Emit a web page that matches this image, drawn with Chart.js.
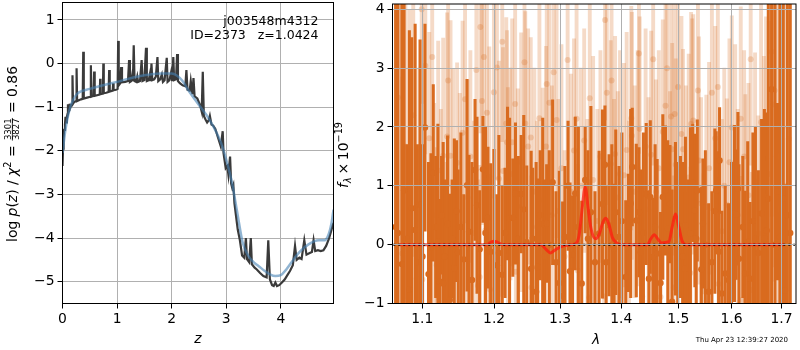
<!DOCTYPE html>
<html>
<head>
<meta charset="utf-8">
<script src="https://cdn.jsdelivr.net/npm/chart.js@4.4.0/dist/chart.umd.min.js"></script>
<style>
  html, body { margin: 0; padding: 0; background: #fff; }
  #wrap { position: relative; width: 800px; height: 350px; overflow: hidden; }
  canvas { position: absolute; top: 0; }
  #pz { left: 0; }
  #spec { left: 334px; }
</style>
</head>
<body>
<div id="wrap">
  <canvas id="pz" width="340" height="350"></canvas>
  <canvas id="spec" width="466" height="350"></canvas>
</div>
<script>
// ---- left panel: log p(z) ----
const pzZ = [0.000,0.010,0.020,0.030,0.045,0.055,0.065,0.080,0.093,0.100,0.107,0.120,
  0.130,0.140,0.160,0.175,0.183,0.193,0.215,0.250,0.258,0.268,
  0.300,0.340,0.370,0.380,0.390,0.450,0.510,0.520,0.530,0.570,
  0.580,0.590,0.650,0.683,0.690,0.697,0.740,0.748,0.756,0.800,0.845,0.855,
  0.865,0.920,0.928,0.936,0.980,1.010,1.020,1.030,1.060,1.075,1.090,1.150,
  1.200,1.220,1.235,1.260,1.275,1.290,1.305,1.320,1.350,1.370,
  1.385,1.420,1.450,1.465,1.500,1.530,1.545,1.580,1.600,1.615,
  1.630,1.645,1.680,1.710,1.740,1.755,1.790,1.820,1.840,1.870,
  1.910,1.925,1.960,1.990,2.010,2.030,2.045,2.080,2.100,2.115,
  2.150,2.200,2.250,2.270,2.290,2.330,2.350,2.380,2.400,2.420,
  2.470,2.520,2.550,2.570,2.590,2.620,2.650,2.680,2.700,2.730,
  2.760,2.800,2.850,2.900,2.935,2.950,2.990,3.020,3.040,3.070,
  3.090,3.110,3.130,3.150,3.180,3.210,3.250,3.290,3.330,3.360,
  3.380,3.420,3.450,3.470,3.520,3.560,3.620,3.680,3.740,3.770,
  3.800,3.840,3.870,3.900,3.930,3.970,4.020,4.070,4.120,4.170,
  4.220,4.260,4.290,4.340,4.380,4.430,4.470,4.520,4.570,4.600,
  4.630,4.680,4.730,4.780,4.830,4.880,4.920,4.965];
const pzLog = [-2.35,-1.95,-1.70,-1.52,-1.40,-1.22,-1.35,-1.22,-1.15,-0.93,-1.12,-1.05,
  -0.92,-1.02,-0.95,-0.93,-0.27,-0.92,-0.88,-0.86,-0.11,-0.86,
  -0.84,-0.82,-0.81,0.27,-0.80,-0.78,-0.76,-0.04,-0.76,-0.74,
  -0.18,-0.74,-0.72,-0.71,-0.35,-0.70,-0.69,0.00,-0.68,-0.67,-0.65,-0.15,
  -0.64,-0.62,-0.45,-0.61,-0.60,-0.58,0.52,-0.50,-0.45,-0.08,-0.43,-0.42,
  -0.40,0.08,-0.42,-0.40,-0.28,-0.40,0.42,-0.40,-0.42,-0.30,
  -0.42,-0.40,0.08,-0.40,-0.38,0.36,-0.40,-0.38,-0.25,-0.40,
  0.00,-0.38,-0.36,-0.30,0.15,-0.40,-0.36,-0.25,-0.42,-0.38,
  0.13,-0.42,-0.38,-0.20,-0.40,0.15,-0.38,-0.36,0.22,-0.40,
  -0.45,-0.50,-0.52,-0.15,-0.60,-0.62,-0.40,-0.70,-0.33,-0.75,
  -0.80,-0.95,-1.10,-0.19,-1.20,-1.28,-1.35,-1.30,-1.20,-1.40,
  -1.42,-1.50,-1.70,-1.90,-1.55,-2.05,-2.40,-2.35,-2.55,-2.13,
  -2.75,-2.85,-2.78,-3.20,-3.50,-3.80,-4.05,-4.40,-4.45,-4.00,
  -4.48,-4.55,-4.00,-4.60,-4.68,-4.72,-4.80,-4.87,-4.90,-4.05,
  -4.95,-5.08,-5.10,-5.02,-5.10,-5.08,-5.02,-4.95,-4.85,-4.75,
  -4.62,-4.18,-4.50,-4.45,-4.48,-4.05,-4.38,-4.35,-4.32,-4.05,
  -4.30,-4.28,-4.30,-4.28,-4.18,-4.02,-3.85,-3.65];
const fitZ = [0.00,0.05,0.10,0.15,0.20,0.25,0.30,0.50,0.80,1.00,1.20,1.40,1.60,1.80,2.00,
  2.10,2.20,2.30,2.50,2.70,2.90,3.00,3.10,3.20,3.30,3.40,3.50,3.60,3.70,3.80,3.90,
  4.00,4.10,4.20,4.30,4.40,4.50,4.60,4.70,4.80,4.88,4.93,4.965];
const fitLog = [-2.05,-1.55,-1.20,-0.97,-0.82,-0.72,-0.66,-0.58,-0.48,-0.42,-0.35,-0.29,-0.25,-0.23,-0.23,
  -0.28,-0.40,-0.60,-0.95,-1.30,-1.80,-2.20,-2.70,-3.40,-4.10,-4.40,-4.55,-4.65,-4.75,-4.83,-4.87,
  -4.85,-4.72,-4.55,-4.38,-4.25,-4.15,-4.08,-4.05,-4.05,-3.90,-3.65,-3.35];
const zTicks = [0, 1, 2, 3, 4];
const pzTicks = [-5, -4, -3, -2, -1, 0, 1];

// ---- right panel: 1D spectrum ----
const darkWave = [1.0650,1.0680,1.0730,1.0760,1.0795,1.0829,1.0860,1.0905,1.0935,1.0970,
  1.1003,1.1036,1.1083,1.1116,1.1147,1.1180,1.1210,1.1237,1.1260,1.1282,
  1.1305,1.1342,1.1373,1.1405,1.1435,1.1466,1.1488,1.1527,1.1567,1.1613,
  1.1641,1.1683,1.1726,1.1754,1.1792,1.1839,1.1875,1.1911,1.1950,1.1997,
  1.2041,1.2070,1.2119,1.2160,1.2197,1.2227,1.2275,1.2315,1.2358,1.2400,
  1.2439,1.2484,1.2551,1.2575,1.2627,1.2651,1.2690,1.2728,1.2760,1.2789,
  1.2830,1.2882,1.2935,1.2987,1.3039,1.3075,1.3125,1.3156,1.3197,1.3240,
  1.3290,1.3344,1.3400,1.3445,1.3493,1.3560,1.3628,1.3683,1.3725,1.3745,
  1.3794,1.3840,1.3877,1.3906,1.3961,1.4010,1.4075,1.4120,1.4160,1.4187,
  1.4256,1.4302,1.4331,1.4380,1.4429,1.4476,1.4500,1.4546,1.4585,1.4621,
  1.4681,1.4722,1.4770,1.4811,1.4850,1.4888,1.4949,1.4990,1.5040,1.5080,
  1.5118,1.5131,1.5175,1.5222,1.5265,1.5305,1.5330,1.5350,1.5425,1.5455,
  1.5500,1.5562,1.5624,1.5680,1.5705,1.5751,1.5770,1.5813,1.5878,1.5942,
  1.6000,1.6057,1.6090,1.6125,1.6145,1.6220,1.6266,1.6317,1.6364,1.6420,
  1.6470,1.6529,1.6594,1.6650,1.6695,1.6729,1.6796,1.6865,1.6915,1.6967,
  1.7035,1.7070,1.7120,1.7180];
const darkFlux = [0.30,0.20,-0.33,0.92,0.10,-0.76,0.62,0.25,-0.30,0.68,
  -0.20,1.99,-0.50,-0.05,1.22,0.30,0.05,-0.63,0.50,-0.66,
  -0.20,0.35,-0.94,0.10,-0.40,0.57,-0.13,0.30,-0.25,1.01,
  0.22,-0.60,1.27,0.67,-0.08,1.28,0.20,0.46,-0.12,0.02,
  -0.35,-0.14,-0.51,0.20,1.04,0.45,0.46,0.87,0.10,0.86,
  0.60,0.04,-0.41,0.10,-0.80,-0.38,0.50,0.35,-0.20,0.36,
  0.00,1.06,-0.30,-0.65,-0.87,0.13,1.00,-0.45,-0.17,0.87,
  0.30,-0.66,1.10,0.10,0.55,-0.30,0.19,0.69,1.36,-0.30,
  0.33,0.00,-0.07,0.55,0.13,0.40,-0.55,0.20,0.70,1.32,
  0.41,0.55,-0.13,0.20,0.86,-0.58,0.81,-0.21,0.30,-0.15,
  -0.65,0.81,0.92,0.27,0.69,-0.97,0.44,0.00,0.30,-0.20,
  -0.41,0.33,0.00,0.19,1.05,0.58,0.10,0.92,-0.42,0.36,
  0.00,-0.80,-0.30,0.57,0.92,-0.12,1.43,-0.83,-0.49,-0.60,
  0.20,0.53,0.51,0.95,-0.24,0.30,-0.49,0.05,-0.58,0.40,
  0.10,-0.14,0.53,0.10,0.24,0.78,2.64,0.00,0.90,0.13,
  0.78,-0.78,0.50,0.20];
const darkErr = [6.0,5.5,5.0,3.2,1.6,4.4,2.9,3.5,2.0,2.8,
  1.9,1.76,1.9,1.6,1.5,1.2,2.0,1.4,1.0,2.4,
  1.3,1.5,1.8,1.0,2.2,1.2,1.4,1.6,1.1,1.8,
  1.3,2.0,1.2,1.5,1.0,0.9,1.8,1.2,1.5,1.6,
  1.2,2.0,1.5,1.1,1.3,1.7,1.0,1.2,1.4,1.0,
  1.6,1.3,2.0,1.2,2.2,1.5,1.1,1.8,1.3,1.0,
  1.6,1.4,1.2,1.9,1.6,1.2,1.1,1.5,1.0,1.3,
  1.7,1.4,0.9,1.5,1.8,1.2,1.4,1.6,1.0,1.3,
  1.2,1.7,1.1,1.4,1.2,1.5,1.3,1.0,1.6,1.0,
  1.3,1.1,1.4,1.7,1.2,1.5,1.3,1.0,1.4,1.6,
  1.2,1.4,1.1,1.5,1.0,1.9,1.3,1.4,1.2,1.6,
  1.3,1.5,1.1,1.8,1.0,1.3,1.5,1.2,1.4,1.1,
  1.6,1.5,1.2,1.4,1.0,1.7,0.9,1.4,1.5,1.3,
  1.2,1.5,1.1,1.3,1.6,1.2,1.4,1.7,1.3,1.5,
  1.9,1.4,1.6,2.2,2.0,3.8,4.0,4.5,1.5,4.5,
  5.0,1.8,6.0,6.0];

const lightWave = [1.0680,1.0738,1.0777,1.0830,1.0880,1.0926,1.0960,1.0992,1.1000,1.1040,
  1.1093,1.1133,1.1160,1.1193,1.1214,1.1250,1.1282,1.1328,1.1336,1.1350,
  1.1383,1.1419,1.1474,1.1511,1.1550,1.1585,1.1620,1.1660,1.1710,1.1745,
  1.1768,1.1792,1.1802,1.1825,1.1853,1.1873,1.1896,1.1930,1.1940,1.1997,
  1.2041,1.2070,1.2119,1.2130,1.2178,1.2190,1.2202,1.2240,1.2266,1.2310,
  1.2320,1.2350,1.2400,1.2450,1.2462,1.2505,1.2545,1.2555,1.2600,1.2640,
  1.2677,1.2728,1.2780,1.2790,1.2831,1.2870,1.2898,1.2944,1.2971,1.3020,
  1.3070,1.3118,1.3170,1.3220,1.3261,1.3280,1.3330,1.3384,1.3437,1.3465,
  1.3475,1.3530,1.3600,1.3650,1.3711,1.3727,1.3756,1.3822,1.3835,1.3877,
  1.3895,1.3940,1.3978,1.4045,1.4091,1.4130,1.4170,1.4180,1.4230,1.4280,
  1.4302,1.4315,1.4359,1.4418,1.4470,1.4516,1.4551,1.4600,1.4650,1.4681,
  1.4722,1.4770,1.4798,1.4850,1.4870,1.4890,1.4919,1.4935,1.4955,1.4996,
  1.5058,1.5087,1.5140,1.5191,1.5222,1.5235,1.5255,1.5275,1.5362,1.5380,
  1.5420,1.5468,1.5519,1.5570,1.5624,1.5688,1.5737,1.5751,1.5813,1.5860,
  1.5909,1.5960,1.6005,1.6071,1.6120,1.6180,1.6205,1.6246,1.6270,1.6331,
  1.6376,1.6400,1.6463,1.6529,1.6583,1.6640,1.6683,1.6740,1.6796,1.6830,
  1.6855,1.6900,1.6960,1.7020,1.7080,1.7150];
const lightFlux = [2.50,-0.15,1.67,0.80,2.20,-0.58,1.00,4.00,-0.59,3.04,
  1.81,3.19,0.50,-0.35,1.26,0.60,1.51,-0.50,1.84,2.79,
  1.51,0.98,1.39,0.37,1.90,2.47,0.80,1.50,0.20,2.97,
  -0.70,-0.55,3.70,2.44,3.19,0.24,2.24,1.16,-0.76,2.59,
  3.01,1.12,3.45,1.25,2.06,1.74,0.67,1.20,1.74,2.39,
  -0.46,0.65,1.40,3.10,2.06,1.67,1.82,-0.73,0.90,0.30,
  2.15,0.76,1.67,2.73,2.41,0.50,2.93,2.12,0.57,1.30,
  -0.20,3.14,0.90,1.60,2.14,-0.44,1.00,1.77,0.33,-0.90,
  2.49,1.10,0.40,1.50,-0.88,3.82,2.58,1.37,2.79,0.57,
  1.54,0.80,1.20,1.18,1.61,0.30,2.15,1.85,0.90,1.30,
  3.25,1.97,-0.88,1.67,0.60,1.53,3.15,0.90,1.30,-0.89,
  1.92,2.36,3.00,0.70,2.18,1.62,-0.73,2.22,1.36,2.68,
  1.88,1.62,0.80,1.14,-0.48,2.05,1.84,2.11,2.62,1.43,
  0.70,-0.79,0.64,1.30,2.58,1.81,2.68,-0.67,0.23,1.00,
  0.68,1.40,1.99,1.40,0.50,2.14,-0.94,1.50,0.55,0.84,
  3.15,-0.77,1.06,0.19,2.08,0.90,1.47,1.20,3.28,2.38,
  2.62,1.50,0.60,2.00,1.00,1.80];
const lightErr = [3.5,3.0,2.6,3.2,2.4,2.2,2.0,1.6,1.8,1.5,
  1.8,2.0,1.9,2.0,2.2,1.7,2.0,1.9,2.1,1.8,
  2.3,2.0,1.7,2.2,1.9,2.1,2.0,1.8,1.9,2.0,
  1.8,1.9,1.8,2.1,1.9,1.7,2.0,2.2,1.9,1.8,
  1.9,2.0,1.7,2.1,1.8,1.9,2.0,1.8,2.1,1.9,
  1.7,2.0,2.2,1.8,1.9,2.0,1.7,1.9,2.1,1.8,
  2.0,1.9,1.7,2.0,1.9,2.2,1.8,2.0,1.9,2.1,
  1.8,1.7,2.0,1.9,2.1,1.8,2.0,1.9,1.8,2.0,
  1.7,2.1,1.9,1.8,2.0,1.7,1.9,2.1,1.8,1.9,
  2.0,1.8,2.1,1.9,2.0,1.8,1.9,2.1,1.8,2.0,
  1.7,1.9,1.8,2.0,1.9,2.1,1.8,1.9,2.0,1.7,
  1.9,2.1,1.8,1.9,2.0,1.8,1.9,2.1,1.8,1.9,
  2.0,1.7,1.9,2.1,1.8,1.9,2.0,1.8,1.9,2.1,
  1.8,2.0,1.9,1.8,2.0,1.9,2.1,1.8,1.9,2.0,
  1.8,2.1,1.9,2.0,1.8,1.9,2.1,1.8,2.0,1.9,
  1.8,2.0,2.2,2.0,2.1,2.3,2.4,2.6,2.8,3.0,
  3.0,3.2,3.5,3.6,4.0,4.0];

const modelWave = [1.070,1.190,1.195,1.200,1.205,1.212,1.270,1.278,1.285,1.292,1.300,1.310,1.325,
  1.330,1.335,1.340,1.345,1.350,1.357,1.363,1.369,1.374,1.379,1.385,1.392,1.400,
  1.445,1.451,1.457,1.463,1.470,1.483,1.489,1.495,1.501,1.507,1.514,1.705];
const modelFlux = [0,0,0.04,0.06,0.04,0,0,-0.08,-0.14,-0.09,-0.04,-0.01,0.02,
  0.15,0.60,0.98,0.60,0.25,0.10,0.18,0.38,0.45,0.35,0.12,0.03,0,
  0,0.10,0.17,0.10,0.03,0.05,0.30,0.52,0.30,0.06,0,0];
const zeroWave = [1.062, 1.728];
const zeroFlux = [0, 0];
const waveTicks = [1.1, 1.2, 1.3, 1.4, 1.5, 1.6, 1.7];
const fluxTicks = [-1, 0, 1, 2, 3, 4];

const fieldName = 'j003548m4312';
const idText = 'ID=2373   z=1.0424';
const stamp = 'Thu Apr 23 12:39:27 2020';

Chart.defaults.font.family = "'DejaVu Sans'";
Chart.defaults.color = '#000';

const FONT = "'DejaVu Sans'";
const TICK_SIZE = 13.9;
const gridColor = '#b0b0b0';
const orange = '#d96b1f';
const orangeLight = 'rgba(217,107,31,0.25)';

const minus = v => String(v).replace('-', '\u2212');
const pts = (xs, ys) => xs.map((x, i) => ({ x: x, y: ys[i] }));
const bars = (xs, ys, es) => xs.map((x, i) => ({ x: x, y: [ys[i] - es[i], ys[i] + es[i]] }));

// draws a row of text pieces centred on (cx, cy); baseline at local y = 0
function drawRuns(ctx, runs, cx, cy, rot) {
  ctx.save();
  ctx.translate(cx, cy);
  ctx.rotate(rot);
  ctx.fillStyle = '#000';
  ctx.textBaseline = 'alphabetic';
  let total = 0;
  runs.forEach(r => {
    ctx.font = r.font;
    if (r.frac) {
      r.w = Math.max(ctx.measureText(r.frac[0]).width, ctx.measureText(r.frac[1]).width) + 2;
    } else {
      r.w = ctx.measureText(r.t).width;
    }
    total += r.w;
  });
  let x = -total / 2;
  runs.forEach(r => {
    ctx.font = r.font;
    if (r.frac) {
      ctx.textAlign = 'center';
      ctx.fillText(r.frac[0], x + r.w / 2, -5.8);
      ctx.fillText(r.frac[1], x + r.w / 2, 2.8);
      ctx.fillRect(x + 0.5, -4.6, r.w - 1, 0.8);
    } else {
      ctx.textAlign = 'left';
      ctx.fillText(r.t, x, r.dy || 0);
    }
    x += r.w;
  });
  ctx.restore();
}

const nf = s => s + 'px ' + FONT;
const itf = s => 'italic ' + s + 'px ' + FONT;

const pzLabel = [
  { t: 'log ', font: nf(TICK_SIZE) },
  { t: 'p', font: itf(TICK_SIZE) },
  { t: '(', font: nf(TICK_SIZE) },
  { t: 'z', font: itf(TICK_SIZE) },
  { t: ') / ', font: nf(TICK_SIZE) },
  { t: '\u03c7', font: itf(TICK_SIZE) },
  { t: '2', font: nf(9.7), dy: -5.5 },
  { t: ' = ', font: nf(TICK_SIZE) },
  { frac: ['3301', '3827'], font: nf(8.5) },
  { t: ' = 0.86', font: nf(TICK_SIZE) }
];
const specLabel = [
  { t: 'f', font: itf(TICK_SIZE) },
  { t: '\u03bb', font: itf(9.7), dy: 3 },
  { t: '\u2009\u00d7\u200910', font: nf(TICK_SIZE) },
  { t: '\u221219', font: nf(9.7), dy: -6 }
];

const frame = {
  id: 'frame',
  afterDraw(chart) {
    const { ctx, chartArea: a } = chart;
    ctx.save();
    ctx.strokeStyle = '#000';
    ctx.lineWidth = 1;
    ctx.strokeRect(a.left, a.top, a.right - a.left, a.bottom - a.top);
    ctx.restore();
  }
};

function axisOpts(extra) {
  return Object.assign({
    bounds: 'data',
    border: { display: false },
    grid: { color: gridColor, lineWidth: 1, tickColor: '#000', tickLength: 5, drawTicks: true }
  }, extra);
}

// left chart
new Chart(document.getElementById('pz'), {
  type: 'line',
  data: {
    datasets: [
      { data: pts(fitZ, fitLog), borderColor: 'rgba(70,130,180,0.6)', borderWidth: 2.5,
        pointRadius: 0, cubicInterpolationMode: 'monotone', order: 0 },
      { data: pts(pzZ, pzLog), borderColor: '#3a3a3a', borderWidth: 2.2, pointRadius: 0,
        tension: 0, order: 1 }
    ]
  },
  options: {
    responsive: false, animation: false, devicePixelRatio: 1,
    layout: { padding: { left: 0, top: 2.5, right: 6.5, bottom: 0 } },
    plugins: { legend: { display: false }, tooltip: { enabled: false } },
    scales: {
      x: axisOpts({
        type: 'linear', min: 0, max: 4.965,
        afterBuildTicks: s => { s.ticks = zTicks.map(v => ({ value: v })); },
        ticks: { font: { size: TICK_SIZE }, color: '#000', autoSkip: false, maxRotation: 0, padding: 3,
          callback: v => minus(v) },
        afterFit: s => { s.height = 46.5; s.paddingLeft = 0; s.paddingRight = 0; }
      }),
      y: axisOpts({
        type: 'linear', min: -5.5, max: 1.4,
        afterBuildTicks: s => { s.ticks = pzTicks.map(v => ({ value: v })); },
        ticks: { font: { size: TICK_SIZE }, color: '#000', autoSkip: false, padding: 3,
          callback: v => minus(v) },
        afterFit: s => { s.width = 62.5; s.paddingTop = 0; s.paddingBottom = 0; }
      })
    }
  },
  plugins: [frame, {
    id: 'pzText',
    afterDraw(chart) {
      const ctx = chart.ctx;
      ctx.save();
      ctx.fillStyle = '#000';
      ctx.font = nf(12.5);
      ctx.textAlign = 'right';
      ctx.textBaseline = 'alphabetic';
      ctx.fillText(fieldName, 318.5, 25);
      ctx.fillText(idText, 318.5, 39);
      ctx.textAlign = 'center';
      ctx.font = itf(TICK_SIZE);
      ctx.fillText('z', 198, 343);
      ctx.restore();
      drawRuns(ctx, pzLabel, 16.5, 154, -Math.PI / 2);
    }
  }]
});

// right chart
new Chart(document.getElementById('spec'), {
  type: 'bar',
  data: {
    datasets: [
      { type: 'line', data: pts(zeroWave, zeroFlux), borderColor: '#000', borderWidth: 2,
        borderDash: [2, 3], pointRadius: 0, order: 0 },
      { type: 'line', data: pts(modelWave, modelFlux), borderColor: 'rgba(255,25,15,0.72)', borderWidth: 3,
        pointRadius: 0, cubicInterpolationMode: 'monotone', order: 1 },
      { type: 'scatter', data: pts(darkWave, darkFlux), backgroundColor: orange, borderWidth: 0,
        pointRadius: 3.2, order: 2 },
      { type: 'bar', data: bars(darkWave, darkFlux, darkErr), backgroundColor: orange,
        barThickness: 2.4, grouped: false, borderWidth: 0, order: 3 },
      { type: 'scatter', data: pts(lightWave, lightFlux), backgroundColor: orangeLight, borderWidth: 0,
        pointRadius: 3, order: 4 },
      { type: 'bar', data: bars(lightWave, lightFlux, lightErr), backgroundColor: orangeLight,
        barThickness: 3.2, grouped: false, borderWidth: 0, order: 5 }
    ]
  },
  options: {
    responsive: false, animation: false, devicePixelRatio: 1,
    layout: { padding: { left: 0, top: 2.5, right: 0.5, bottom: 0 } },
    plugins: { legend: { display: false }, tooltip: { enabled: false } },
    scales: {
      x: axisOpts({
        type: 'logarithmic', min: 1.061, max: 1.730, offset: false,
        grid: { color: gridColor, lineWidth: 1, tickColor: '#000', tickLength: 5, drawTicks: true, z: 1, offset: false },
        afterBuildTicks: s => { s.ticks = waveTicks.map(v => ({ value: v })); },
        ticks: { font: { size: TICK_SIZE }, color: '#000', autoSkip: false, maxRotation: 0, padding: 3,
          callback: v => Number(v).toFixed(1) },
        afterFit: s => { s.height = 46.5; s.paddingLeft = 0; s.paddingRight = 0; }
      }),
      y: axisOpts({
        type: 'linear', min: -1.0, max: 4.09,
        grid: { color: gridColor, lineWidth: 1, tickColor: '#000', tickLength: 5, drawTicks: true, z: 1 },
        afterBuildTicks: s => { s.ticks = fluxTicks.map(v => ({ value: v })); },
        ticks: { font: { size: TICK_SIZE }, color: '#000', autoSkip: false, padding: 3,
          callback: v => minus(v) },
        afterFit: s => { s.width = 58.5; s.paddingTop = 0; s.paddingBottom = 0; }
      })
    }
  },
  plugins: [frame, {
    id: 'specText',
    afterDraw(chart) {
      const ctx = chart.ctx;
      ctx.save();
      ctx.fillStyle = '#000';
      ctx.textBaseline = 'alphabetic';
      ctx.textAlign = 'center';
      ctx.font = itf(TICK_SIZE);
      ctx.fillText('\u03bb', 262, 344);
      ctx.textAlign = 'right';
      ctx.font = nf(7);
      ctx.fillText(stamp, 454, 342);
      ctx.restore();
      drawRuns(ctx, specLabel, 14, 155, -Math.PI / 2);
    }
  }]
});
</script>
</body>
</html>
